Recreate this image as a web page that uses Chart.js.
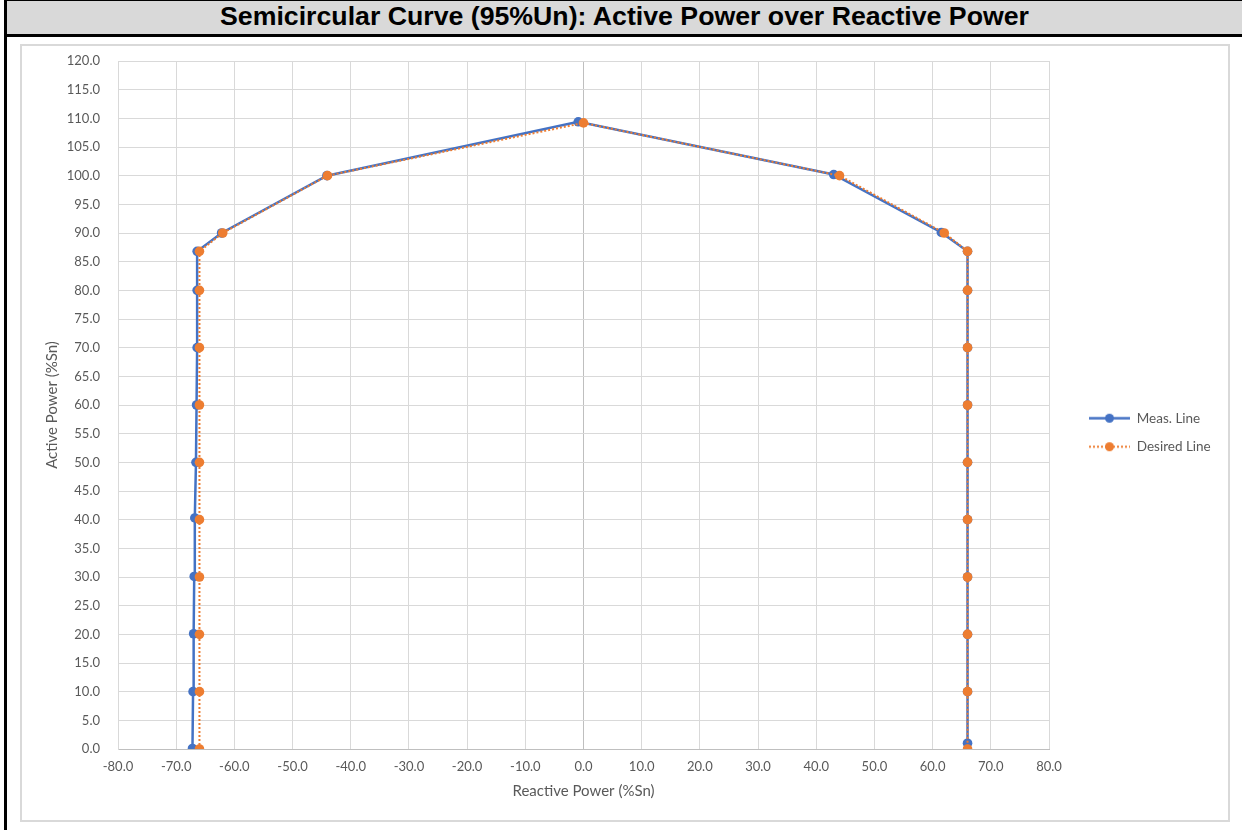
<!DOCTYPE html>
<html>
<head>
<meta charset="utf-8">
<title>Semicircular Curve (95%Un)</title>
<script src="https://cdn.jsdelivr.net/npm/chart.js@4.4.1/dist/chart.umd.min.js"></script>
<style>
  html, body { margin: 0; padding: 0; background: #fff; }
  body { width: 1242px; height: 830px; position: relative; overflow: hidden; }
  #frameLeft { position: absolute; left: 4px; top: 0; width: 3px; height: 830px; background: #000; }
  #title {
    position: absolute; left: 7px; top: 0; width: 1235px; height: 33px;
    border-top: 1px solid #000; border-bottom: 3px solid #000;
    background: #d9d9d9; color: #000; text-align: center; line-height: 34px;
    font: bold 26.7px "Liberation Sans", Arial, sans-serif;
  }
  #chartBox { position: absolute; left: 20px; top: 44px; width: 1206px; height: 774px; border: 2px solid #d9d9d9; }
</style>
</head>
<body>
<div id="frameLeft"></div>
<div id="title">Semicircular Curve (95%Un): Active Power over Reactive Power</div>
<div id="chartBox"><canvas id="curveChart"></canvas></div>
<script>
// Measured curve (reactive power Q, active power P, both in %Sn)
const measQ = [-67.2, -67.1, -67.0, -66.9, -66.8, -66.6, -66.5, -66.4, -66.4, -66.4,
  -62.2, -44.1, -0.9, 43.0, 61.5, 66.0, 66.0, 66.0, 66.0, 66.0, 66.0, 66.0, 66.0, 66.0, 66.0];
const measP = [0.1, 10.0, 20.1, 30.1, 40.3, 50.0, 60.0, 70.0, 80.0, 86.8,
  90.0, 100.0, 109.4, 100.2, 90.1, 86.8, 80.0, 70.0, 60.0, 50.0, 40.0, 30.0, 20.0, 10.0, 1.0];

// Desired curve
const desiredQ = [-66.0, -66.0, -66.0, -66.0, -66.0, -66.0, -66.0, -66.0, -66.0, -66.0,
  -62.0, -44.0, 0.0, 44.0, 62.0, 66.0, 66.0, 66.0, 66.0, 66.0, 66.0, 66.0, 66.0, 66.0, 66.0];
const desiredP = [0.0, 10.0, 20.0, 30.0, 40.0, 50.0, 60.0, 70.0, 80.0, 86.8,
  90.0, 100.0, 109.2, 100.0, 90.0, 86.8, 80.0, 70.0, 60.0, 50.0, 40.0, 30.0, 20.0, 10.0, 0.0];

const qTicks = [-80, -70, -60, -50, -40, -30, -20, -10, 0, 10, 20, 30, 40, 50, 60, 70, 80];
const pTicks = [0, 5, 10, 15, 20, 25, 30, 35, 40, 45, 50, 55, 60, 65, 70, 75, 80, 85, 90, 95,
  100, 105, 110, 115, 120];

const BLUE = "#4472C4";
const ORANGE = "#ED7D31";
const GRID = "#d9d9d9";
const AXIS = "#bfbfbf";
const TEXT = "#595959";
const FONT = "Lato, 'Open Sans', sans-serif";
const LEGEND_WIDTH = 165;

function toPoints(xs, ys) {
  return xs.map((x, i) => ({ x: x, y: ys[i] }));
}

// Small Excel-like legend sample: line with a marker in the middle
function legendIcon(color, dash) {
  const c = document.createElement("canvas");
  c.width = 66;
  c.height = 13;
  const g = c.getContext("2d");
  g.strokeStyle = color;
  g.lineWidth = dash ? 2 : 2.5;
  g.setLineDash(dash || []);
  g.beginPath();
  g.moveTo(25, 6.5);
  g.lineTo(66, 6.5);
  g.stroke();
  g.fillStyle = color;
  g.beginPath();
  g.arc(45.5, 6.5, 4.5, 0, Math.PI * 2);
  g.fill();
  return c;
}

const icons = [legendIcon(BLUE), legendIcon(ORANGE, [2, 2])];

// keep the legend a fixed width and nudge it up a bit
const legendPlacement = {
  id: "legendPlacement",
  beforeUpdate(chart) {
    const legend = chart.legend;
    if (!legend || legend._fixedWidth) return;
    const fit = legend.fit;
    legend.fit = function () {
      fit.call(this);
      this.width = LEGEND_WIDTH;
    };
    legend._fixedWidth = true;
  },
  afterLayout(chart) {
    chart.legend.top -= 8;
    chart.legend.bottom -= 8;
  },
};

const fixedTicks = (values) => (scale) => {
  scale.ticks = values.map((v) => ({ value: v }));
};

const ctx = document.getElementById("curveChart").getContext("2d");

new Chart(ctx, {
  type: "scatter",
  data: {
    datasets: [
      {
        label: "Meas. Line",
        data: toPoints(measQ, measP),
        showLine: true,
        borderColor: BLUE,
        borderWidth: 2.5,
        backgroundColor: BLUE,
        pointRadius: 4.8,
        pointBorderWidth: 0,
        pointBackgroundColor: BLUE,
        order: 1,
      },
      {
        label: "Desired Line",
        data: toPoints(desiredQ, desiredP),
        showLine: true,
        borderColor: ORANGE,
        borderWidth: 2,
        borderDash: [2, 2],
        backgroundColor: ORANGE,
        pointRadius: 4.8,
        pointBorderWidth: 0,
        pointBackgroundColor: ORANGE,
        order: 0,
      },
    ],
  },
  options: {
    responsive: true,
    maintainAspectRatio: false,
    animation: false,
    layout: { padding: { top: 15, right: 14, bottom: 0, left: 0 } },
    scales: {
      x: {
        type: "linear",
        min: -80,
        max: 80,
        afterBuildTicks: fixedTicks(qTicks),
        afterFit: (s) => { s.height = 71; },
        grid: {
          color: (c) => (c.tick && c.tick.value === 0 ? AXIS : GRID),
          drawTicks: false,
        },
        border: { color: AXIS },
        ticks: {
          padding: 10,
          color: TEXT,
          font: { family: FONT, size: 13 },
          maxRotation: 0,
          callback: (v) => Number(v).toFixed(1),
        },
        title: {
          display: true,
          text: "Reactive Power (%Sn)",
          color: TEXT,
          font: { family: FONT, size: 15 },
          padding: { top: 0, bottom: 20 },
        },
      },
      y: {
        type: "linear",
        min: 0,
        max: 120,
        afterBuildTicks: fixedTicks(pTicks),
        afterFit: (s) => {
          s.width = 96;
          s.paddingTop = 0;
          s.paddingBottom = 0;
        },
        grid: { color: GRID, drawTicks: false },
        border: { color: GRID },
        ticks: {
          padding: 18,
          color: TEXT,
          font: { family: FONT, size: 13 },
          callback: (v) => Number(v).toFixed(1),
        },
        title: {
          display: true,
          text: "Active Power (%Sn)",
          color: TEXT,
          font: { family: FONT, size: 15 },
          padding: { top: 21, bottom: 0 },
        },
      },
    },
    plugins: {
      tooltip: { enabled: false },
      legend: {
        position: "right",
        labels: {
          usePointStyle: true,
          pointStyleWidth: 66,
          padding: 15,
          color: TEXT,
          font: { family: FONT, size: 13.5 },
          generateLabels: (chart) =>
            chart.data.datasets.map((ds, i) => ({
              text: ds.label,
              pointStyle: icons[i],
              datasetIndex: i,
              hidden: false,
              lineWidth: 0,
              fontColor: TEXT,
            })),
        },
      },
    },
  },
  plugins: [legendPlacement],
});
</script>
</body>
</html>
